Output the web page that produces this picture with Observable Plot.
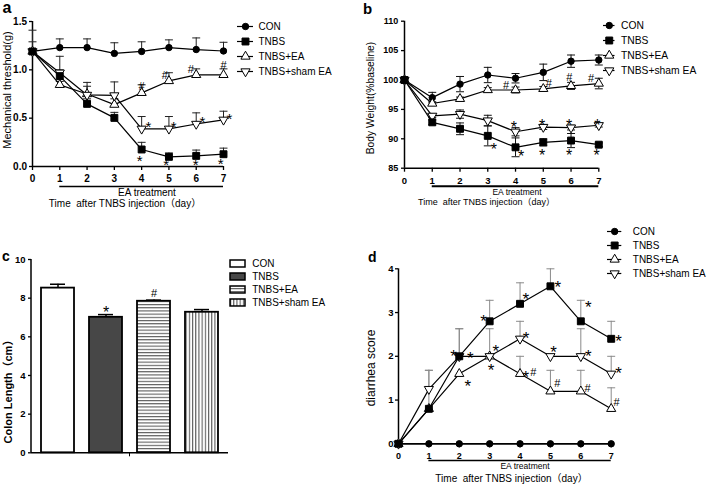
<!DOCTYPE html>
<html><head><meta charset="utf-8">
<script src="https://cdn.jsdelivr.net/npm/d3@7"></script>
<script src="https://cdn.jsdelivr.net/npm/@observablehq/plot@0.6"></script>
<style>
body{margin:0;background:#fff;}
#root{position:relative;width:708px;height:485px;overflow:hidden;background:#fff;font-family:"Liberation Sans",Arial,"Noto Sans CJK SC",sans-serif;color:#000;}
#root svg{overflow:visible;}
</style></head><body><div id="root"></div>
<script>
// ---------- shared ----------
const days = [0, 1, 2, 3, 4, 5, 6, 7];
const groups = ["CON", "TNBS", "TNBS+EA", "TNBS+sham EA"];
const treatmentFrom = [1];
const treatmentTo = [7];

// ---------- panel a: mechanical threshold (g) ----------
const mechCON  = [1.19, 1.23, 1.23, 1.17, 1.19, 1.23, 1.21, 1.195];
const mechTNBS = [1.19, 0.935, 0.648, 0.503, 0.176, 0.10, 0.11, 0.127];
const mechEA   = [1.19, 0.845, 0.75, 0.64, 0.762, 0.885, 0.948, 0.948];
const mechSham = [1.19, 0.97, 0.74, 0.735, 0.39, 0.39, 0.44, 0.483];
const mechCONErr  = [1.29, 1.32, 1.32, 1.28, 1.29, 1.31, 1.33, 1.285];
const mechTNBSErr = [null, 1.0, 0.70, 0.56, 0.25, 0.14, 0.17, 0.19];
const mechEAErr   = [null, 0.88, 0.87, 0.70, 0.845, 0.97, 1.01, 1.01];
const mechShamErr = [1.41, 1.14, 0.83, 0.875, 0.517, 0.517, 0.555, 0.572];
const mechMarks = [[4, 0.83, "#"], [4.85, 0.94, "#"], [5.8, 1.0, "#"], [7, 1.05, "#"],
  [4.25, 0.45, "*"], [5.17, 0.45, "*"], [6.23, 0.50, "*"], [7.22, 0.53, "*"],
  [3.93, 0.10, "*"], [4.9, 0.06, "*"], [5.98, 0.06, "*"], [6.9, 0.065, "*"]];

// ---------- panel b: body weight (% baseline), mean ± sd ----------
const bwCON  = [100, 97.0, 99.3, 100.85, 100.3, 101.3, 103.2, 103.4];
const bwCONsd  = [0, 0.9, 1.3, 1.3, 0.8, 1.4, 1.05, 0.85];
const bwTNBS = [100, 92.8, 91.7, 90.5, 88.55, 89.4, 89.7, 89.0];
const bwTNBSsd = [0, 0.4, 1.0, 1.7, 1.6, 0.6, 1.2, 0.3];
const bwEA   = [100, 96.0, 96.8, 98.3, 98.3, 98.5, 99.0, 99.4];
const bwEAsd   = [0, 0.3, 0.3, 0.4, 0.5, 0.4, 0.6, 0.9];
const bwSham = [100, 93.9, 94.2, 93.1, 91.2, 92.0, 91.9, 92.3];
const bwShamsd = [0, 0.3, 0.7, 0.9, 0.7, 0.4, 0.4, 0.3];
const bwMarks = [[3.66, 99.0, "#"], [5.2, 99.4, "#"], [5.94, 100.4, "#"], [6.72, 100.3, "#"],
  [3.22, 88.8, "*"], [4.2, 87.7, "*"], [4.96, 87.8, "*"], [5.93, 87.8, "*"], [6.92, 87.8, "*"],
  [3.94, 92.6, "*"], [4.96, 92.9, "*"], [5.93, 93.0, "*"], [6.95, 93.0, "*"]];

// ---------- panel c: colon length (cm) ----------
const colonMean = [8.52, 7.01, 7.84, 7.27];
const colonErr  = [8.72, 7.15, 7.9, 7.41];
const colonMarkGroups = ["TNBS", "TNBS+EA"];
const colonMarkValues = [7.45, 8.22];
const colonMarkText = ["*", "#"];

// ---------- panel d: diarrhea score ----------
const dCON  = [0, 0, 0, 0, 0, 0, 0, 0];
const dTNBS = [0, 0.8, 2.0, 2.8, 3.2, 3.6, 2.8, 2.4];
const dEA   = [0, 0.8, 1.6, 2.0, 1.6, 1.2, 1.2, 0.8];
const dSham = [0, 1.25, 2.0, 2.0, 2.4, 2.0, 2.0, 1.6];
const dCONErr  = [null, null, null, null, null, null, null, null];
const dTNBSErr = [null, 1.68, 2.63, 3.28, 3.68, 4.0, 3.28, 2.8];
const dEAErr   = [null, null, null, null, 2.0, 1.68, 1.68, 1.28];
const dShamErr = [null, 1.68, 2.63, 2.63, 2.8, null, 2.63, 2.0];
const dMarks = [[1.81, 2.11, "*"], [2.36, 2.05, "*"], [2.28, 1.42, "*"], [2.8, 2.91, "*"], [3.2, 2.22, "*"],
  [3.05, 1.79, "*"], [4.19, 3.41, "*"], [5.24, 3.67, "*"], [6.25, 3.21, "*"], [7.24, 2.45, "*"],
  [4.2, 2.5, "*"], [5.1, 2.19, "*"], [6.25, 2.09, "*"], [7.24, 1.71, "*"], [4.19, 1.62, "*"],
  [4.44, 1.62, "#"], [5.23, 1.37, "#"], [6.22, 1.26, "#"], [7.18, 0.95, "#"]];

// ---------- styles ----------
const FONT = '"Liberation Sans", Arial, "Noto Sans CJK SC", sans-serif';
const baseStyle = {fontFamily: FONT, fontSize: "10px", background: "transparent", overflow: "visible", color: "black"};
const triDown = {draw(ctx, size) {
  const y = Math.sqrt(size / (Math.sqrt(3) * 3));
  ctx.moveTo(0, y * 2); ctx.lineTo(-Math.sqrt(3) * y, -y); ctx.lineTo(Math.sqrt(3) * y, -y); ctx.closePath();
}};
const capSymbol = {draw(ctx, size) { const w = Math.sqrt(size) / 2; ctx.moveTo(-w, 0); ctx.lineTo(w, 0); }};
const seriesStyle = {
  "CON": {symbol: "circle", r: 3.2, fill: "black"},
  "TNBS": {symbol: "square", r: 3.9, fill: "black"},
  "TNBS+EA": {symbol: "triangle", r: 3.4, fill: "white"},
  "TNBS+sham EA": {symbol: triDown, r: 3.4, fill: "white"}
};
const barFills = ["white", "#474747", "url(#hstripe)", "url(#vstripe)"];
const treatment = treatmentFrom.map((f, i) => ({from: f, to: treatmentTo[i]}));

const root = document.getElementById("root");
function place(node, left, top) {
  node.style.position = "absolute"; node.style.left = left + "px"; node.style.top = top + "px";
  root.appendChild(node);
}
function addText(txt, cx, cy, size, opts = {}) {
  const d = document.createElement("div");
  d.textContent = txt;
  d.style.cssText = `position:absolute;left:${cx}px;top:${cy}px;font-size:${size}px;white-space:pre;line-height:1;` +
    `transform:translate(-50%,-50%)${opts.rotate ? " rotate(-90deg)" : ""};font-weight:${opts.bold ? "bold" : "normal"};`;
  root.appendChild(d);
}
function addLetter(txt, left, top, size) {
  const d = document.createElement("div");
  d.textContent = txt;
  d.style.cssText = `position:absolute;left:${left}px;top:${top}px;font-size:${size}px;line-height:1;font-weight:bold;`;
  root.appendChild(d);
}

// ---------- line chart builder ----------
function lineChart(c) {
  const rowsBy = c.series.map(s => days.map((d, i) => ({
    day: d, v: s.values[i],
    lo: s.sd ? s.values[i] - s.sd[i] : s.values[i],
    hi: s.sd ? s.values[i] + s.sd[i] : s.err[i]
  })));
  const marks = [
    Plot.ruleY([c.yDomain[0]], {strokeWidth: 1.5}),
    Plot.ruleX([0], {strokeWidth: 1.5}),
    Plot.axisX({ticks: days, tickFormat: d3.format("d"), tickSize: 4, tickPadding: c.xTickPad, fontSize: c.xFont, fontWeight: "bold", strokeWidth: 1.3, label: null}),
    Plot.axisY({ticks: c.yTicks, tickFormat: c.yFormat, tickSize: 3, tickPadding: c.yTickPad, fontSize: c.yFont, fontWeight: "bold", strokeWidth: 1.3, label: null}),
    Plot.ruleY(treatment, {y: () => c.yDomain[0], x1: "from", x2: "to", dy: c.eaDy, strokeWidth: c.eaWidth})
  ];
  c.series.forEach((s, k) => {
    const rows = rowsBy[k].filter(r => r.hi != null && r.hi !== r.v);
    marks.push(Plot.ruleX(rows, {x: "day", y1: "lo", y2: "hi", stroke: c.errColor, strokeWidth: 1}));
    marks.push(Plot.dot(rows, {x: "day", y: "hi", symbol: capSymbol, r: c.capR, stroke: c.errColor, strokeWidth: 1, fill: "none"}));
    if (s.sd) marks.push(Plot.dot(rows, {x: "day", y: "lo", symbol: capSymbol, r: c.capR, stroke: c.errColor, strokeWidth: 1, fill: "none"}));
  });
  c.series.forEach((s, k) => marks.push(Plot.line(rowsBy[k], {x: "day", y: "v", stroke: "black", strokeWidth: 1.2})));
  c.series.forEach((s, k) => {
    const st = seriesStyle[s.name];
    marks.push(Plot.dot(rowsBy[k], {x: "day", y: "v", symbol: st.symbol, r: st.r, fill: st.fill, stroke: "black", strokeWidth: 1}));
  });
  const stars = c.marks.filter(m => m[2] === "*");
  const hashes = c.marks.filter(m => m[2] === "#");
  marks.push(Plot.text(stars, {x: d => d[0], y: d => d[1], text: d => d[2], fill: "black", fontSize: c.starSize, dy: c.starSize * 0.27}));
  marks.push(Plot.text(hashes, {x: d => d[0], y: d => d[1], text: d => d[2], fill: "black", fontSize: c.hashSize}));
  const svg = Plot.plot({
    width: c.width, height: c.height,
    marginLeft: c.marginLeft, marginRight: c.marginRight, marginTop: c.marginTop, marginBottom: c.marginBottom,
    x: {domain: [0, 7]}, y: {domain: c.yDomain},
    style: baseStyle,
    marks
  });
  place(svg, c.left, c.top);
}

function lineLegend(o) {
  const h = 16 + 3 * o.gap;
  const svg = Plot.plot({
    width: o.width, height: h, marginTop: 8, marginBottom: 8, marginLeft: 0, marginRight: o.width - o.lineW,
    x: {domain: [0, 1], axis: null}, y: {type: "point", domain: groups, padding: 0, axis: null},
    style: baseStyle,
    marks: [
      Plot.ruleY(groups, {y: d => d, x1: 0, x2: 1, strokeWidth: 1.2}),
      ...groups.map(g => Plot.dot([g], {x: 0.5, y: d => d, symbol: seriesStyle[g].symbol, r: seriesStyle[g].r, fill: seriesStyle[g].fill, stroke: "black", strokeWidth: 1})),
      Plot.text(groups, {x: 1, y: d => d, text: d => d, textAnchor: "start", dx: o.dx, fontSize: o.fs})
    ]
  });
  place(svg, o.left, o.top - 8);
}

// ---------- panel a ----------
lineChart({
  left: 0, top: 0, width: 354, height: 240, marginLeft: 32, marginRight: 131, marginTop: 21, marginBottom: 74,
  yDomain: [0, 1.5], yTicks: [0, 0.5, 1, 1.5], yFormat: d3.format(".1f"), yFont: 10, yTickPad: 2.5,
  xFont: 10, xTickPad: 4, eaDy: 20, eaWidth: 1.4, errColor: "#222", capR: 4.5,
  starSize: 15, hashSize: 11, marks: mechMarks,
  series: [
    {name: "CON", values: mechCON, err: mechCONErr},
    {name: "TNBS+EA", values: mechEA, err: mechEAErr},
    {name: "TNBS+sham EA", values: mechSham, err: mechShamErr},
    {name: "TNBS", values: mechTNBS, err: mechTNBSErr}
  ]
});
lineLegend({left: 237, top: 26, gap: 15, width: 117, lineW: 16, dx: 5, fs: 10});

// ---------- panel b ----------
lineChart({
  left: 354, top: 0, width: 354, height: 240, marginLeft: 50, marginRight: 109.7, marginTop: 20.7, marginBottom: 72.3,
  yDomain: [85, 110], yTicks: [85, 90, 95, 100, 105, 110], yFormat: d3.format("d"), yFont: 9, yTickPad: 3.2,
  xFont: 9.5, xTickPad: 5, eaDy: 18, eaWidth: 2, errColor: "#111", capR: 4.5,
  starSize: 16, hashSize: 11, marks: bwMarks,
  series: [
    {name: "CON", values: bwCON, sd: bwCONsd},
    {name: "TNBS+EA", values: bwEA, sd: bwEAsd},
    {name: "TNBS+sham EA", values: bwSham, sd: bwShamsd},
    {name: "TNBS", values: bwTNBS, sd: bwTNBSsd}
  ]
});
lineLegend({left: 603, top: 25, gap: 15, width: 105, lineW: 11.5, dx: 6, fs: 10.3});

// ---------- panel c ----------
const colonRows = groups.map((g, i) => ({group: g, mean: colonMean[i], err: colonErr[i]}));
const colonMarks = colonMarkGroups.map((g, i) => ({group: g, value: colonMarkValues[i], mark: colonMarkText[i]}));
function patternDefs() {
  const defs = d3.create("svg:defs");
  const h = defs.append("pattern").attr("id", "hstripe").attr("patternUnits", "userSpaceOnUse").attr("width", 4).attr("height", 3.2);
  h.append("rect").attr("width", 4).attr("height", 3.2).attr("fill", "white");
  h.append("rect").attr("width", 4).attr("height", 1.1).attr("fill", "#5a5a5a");
  const v = defs.append("pattern").attr("id", "vstripe").attr("patternUnits", "userSpaceOnUse").attr("width", 3.2).attr("height", 4);
  v.append("rect").attr("width", 3.2).attr("height", 4).attr("fill", "white");
  v.append("rect").attr("width", 1.1).attr("height", 4).attr("fill", "#5a5a5a");
  return defs.node();
}
function axisDecor(index, scales, values, dims) {
  const g = d3.create("svg:g").attr("stroke", "black");
  g.append("line").attr("x1", dims.marginLeft).attr("x2", dims.marginLeft)
    .attr("y1", dims.marginTop).attr("y2", dims.height - dims.marginBottom).attr("stroke-width", 1.5);
  const cx = (dims.marginLeft + dims.width - dims.marginRight) / 2;
  g.append("line").attr("x1", cx).attr("x2", cx)
    .attr("y1", dims.height - dims.marginBottom).attr("y2", dims.height - dims.marginBottom + 4).attr("stroke-width", 1);
  return g.node();
}
const svgC = Plot.plot({
  width: 354, height: 245, marginLeft: 31, marginRight: 126, marginTop: 19, marginBottom: 32.7,
  x: {type: "band", domain: groups, paddingInner: 0.32, paddingOuter: 0.18, axis: null},
  y: {domain: [0, 10]},
  style: baseStyle,
  marks: [
    patternDefs,
    ...groups.map((g, i) => Plot.barY(colonRows.filter(d => d.group === g), {x: "group", y: "mean", fill: barFills[i], stroke: "black", strokeWidth: 1.8})),
    Plot.ruleX(colonRows, {x: "group", y1: "mean", y2: "err", strokeWidth: 1.5}),
    Plot.tickY(colonRows, {x: "group", y: "err", strokeWidth: 1.5, insetLeft: 9, insetRight: 9}),
    Plot.ruleY([0], {strokeWidth: 1.5}),
    axisDecor,
    Plot.axisY({ticks: [0, 2, 4, 6, 8, 10], tickSize: 3, tickPadding: 3, fontSize: 9.5, fontWeight: "bold", strokeWidth: 1.3, label: null}),
    Plot.text(colonMarks.filter(d => d.mark === "*"), {x: "group", y: "value", text: "mark", fill: "black", fontSize: 16, dy: 4.3}),
    Plot.text(colonMarks.filter(d => d.mark === "#"), {x: "group", y: "value", text: "mark", fill: "black", fontSize: 11})
  ]
});
place(svgC, 0, 240);
const svgCL = Plot.plot({
  width: 120, height: 53.2, marginTop: 0, marginBottom: 0, marginLeft: 0, marginRight: 105,
  x: {domain: [0, 1], axis: null},
  y: {type: "band", domain: groups, paddingInner: 0.5, paddingOuter: 0.25, axis: null},
  style: baseStyle,
  marks: [
    ...groups.map((g, i) => Plot.barX([g], {y: d => d, x1: 0, x2: 1, fill: barFills[i], stroke: "black", strokeWidth: 1.5})),
    Plot.text(groups, {x: 1, y: d => d, text: d => d, textAnchor: "start", dx: 6.7, fontSize: 10})
  ]
});
place(svgCL, 230, 256);

// ---------- panel d ----------
lineChart({
  left: 354, top: 240, width: 354, height: 245, marginLeft: 44, marginRight: 97.3, marginTop: 28.3, marginBottom: 41.7,
  yDomain: [0, 4], yTicks: [0, 1, 2, 3, 4], yFormat: d3.format("d"), yFont: 9.5, yTickPad: 2,
  xFont: 9, xTickPad: 4.7, eaDy: 16.7, eaWidth: 1.5, errColor: "#8a8a8a", capR: 4.5,
  starSize: 17, hashSize: 11, marks: dMarks,
  series: [
    {name: "CON", values: dCON, err: dCONErr},
    {name: "TNBS+EA", values: dEA, err: dEAErr},
    {name: "TNBS+sham EA", values: dSham, err: dShamErr},
    {name: "TNBS", values: dTNBS, err: dTNBSErr}
  ]
});
lineLegend({left: 606.7, top: 230, gap: 14.8, width: 101, lineW: 14.3, dx: 11, fs: 10});

// ---------- text ----------
addLetter("a", 2.5, 0, 16);
addLetter("b", 363, 0.8, 15);
addLetter("c", 2, 248.9, 14);
addLetter("d", 368, 249.9, 14);

addText("Mechanical threshold(g)", 6.5, 90, 11, {rotate: true});
addText("EA treatment", 147, 193, 10);
addText("Time  after TNBS injection（day）", 125, 204, 10);

addText("Body Weight(%baseline)", 371, 98, 10.3, {rotate: true});
addText("EA treatment", 517, 192, 8.5);
addText("Time  after TNBS injection（day）", 486.5, 202, 9);

addText("Colon Length（cm）", 8, 389, 11, {rotate: true, bold: true});

addText("diarrhea score", 371, 367.5, 12, {rotate: true});
addText("EA treatment", 525, 466.3, 8.5);
addText("Time  after TNBS injection（day）", 511.5, 479, 10);
</script></body></html>
